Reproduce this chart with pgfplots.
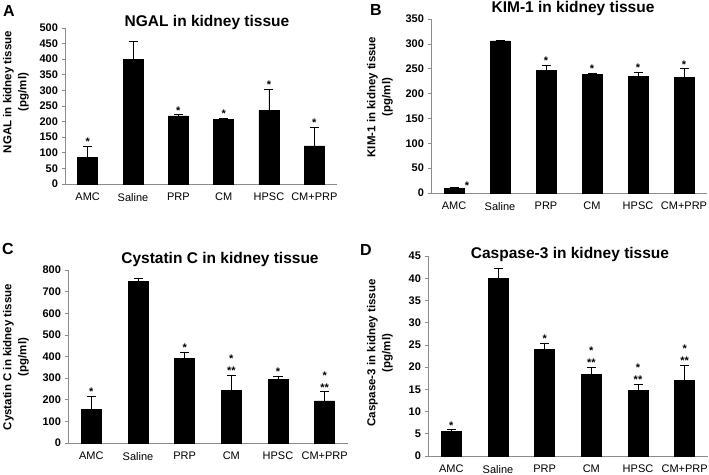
\documentclass[border=0pt]{standalone}
\usepackage{pgfplots}
\pgfplotsset{compat=1.18}
\usepackage{fontspec}
\setmainfont{Liberation Sans}
\definecolor{axgray}{gray}{0.55}
\pgfplotsset{
  panel/.style={
    scale only axis,
    axis lines*=left,
    axis line style={axgray, line width=0.7pt},
    enlargelimits=false,
    xmin=-0.5, xmax=5.5, ymin=0,
    xtick={0,1,2,3,4,5},
    xticklabels={AMC,Saline,PRP,CM,HPSC,CM+PRP},
    x tick label style={font=\fontsize{11}{12}\selectfont, yshift=-2pt},
    y tick label style={font=\bfseries\fontsize{11}{12}\selectfont},
    /pgf/number format/assume math mode=true,
    major x tick style={draw=none},
    extra x ticks={-0.5,0.5,1.5,2.5,3.5,4.5,5.5},
    extra x tick labels={},
    extra x tick style={major tick length=3.5pt, tick style={axgray, line width=0.6pt}},
    tick align=outside,
    major tick length=3.5pt,
    y tick style={axgray, line width=0.6pt},
    clip=false,
  },
  barplot/.style={ybar, bar width=20pt, fill=black, draw=black, mark=none,
    error bars/.cd, y dir=plus, y explicit,
    error bar style={black, line width=0.7pt},
    error mark=-,
    error mark options={black, rotate=90, mark size=4.5pt, line width=0.7pt}},
  stars/.style={only marks, mark=*, mark size=0pt, mark options={draw=none,fill=none},
    nodes near coords, point meta=explicit symbolic,
    nodes near coords style={anchor=south, align=center, inner sep=0.5pt,
      font=\bfseries\fontsize{11}{12}\selectfont}},
}
\begin{document}
\begin{tikzpicture}
\useasboundingbox (0pt,0pt) rectangle (709pt,474pt);

% Panel A
\begin{axis}[panel, at={(65pt,290pt)}, anchor=south west, width=272pt, height=156pt,
  ymax=500, ytick={0,50,...,500}]
\addplot[barplot] table[x=x,y=y,y error=e]{
x y e
0 85 35
1 400 58
2 218 4
3 208 4
4 235 68
5 122 60
};
\addplot[stars] coordinates {(0,120)[*] (2,222)[*] (3,212)[*] (4,303)[*] (5,182)[*]};
\end{axis}

% Panel B
\begin{axis}[panel, at={(431pt,281pt)}, anchor=south west, width=276pt, height=174pt,
  ymax=350, ytick={0,50,...,350}]
\addplot[barplot] table[x=x,y=y,y error=e]{
x y e
0 10 1
1 306 2
2 247 10
3 239 2
4 234 9
5 232 18
};
\addplot[stars] coordinates {(2,257)[*] (3,241)[*] (4,243)[*] (5,250)[*]};
\addplot[stars, nodes near coords style={anchor=south west}] coordinates {(0.22,6)[*]};
\end{axis}

% Panel C
\begin{axis}[panel, at={(68pt,31pt)}, anchor=south west, width=280pt, height=173pt,
  ymax=800, ytick={0,100,...,800}]
\addplot[barplot] table[x=x,y=y,y error=e]{
x y e
0 155 60
1 748 12
2 393 27
3 245 70
4 293 17
5 195 42
};
\addplot[stars] coordinates {(0,215)[*] (2,420)[*] (3,315)[{*\\**}] (4,310)[*] (5,237)[{*\\**}]};
\end{axis}

% Panel D
\begin{axis}[panel, at={(428pt,18pt)}, anchor=south west, width=280pt, height=200pt,
  ymax=45, ytick={0,5,...,45}]
\addplot[barplot] table[x=x,y=y,y error=e]{
x y e
0 5.5 0.4
1 40 2.2
2 24 1.3
3 18.4 1.6
4 14.8 1.3
5 17 3.5
};
\addplot[stars] coordinates {(0,5.9)[*] (2,25.3)[*] (3,20)[{*\\**}] (4,16.1)[{*\\**}] (5,20.5)[{*\\**}]};
\end{axis}

% Titles
\begin{scope}[every node/.style={font=\bfseries\fontsize{15.5}{17}\selectfont}]
\node at (207pt,452pt) {NGAL in kidney tissue};
\node at (573pt,466pt) {KIM-1 in kidney tissue};
\node at (220pt,215pt) {Cystatin C in kidney tissue};
\node at (570pt,220pt) {Caspase-3 in kidney tissue};
\end{scope}
% Panel letters
\begin{scope}[every node/.style={font=\bfseries\fontsize{16}{18}\selectfont}]
\node at (9pt,463pt) {A};
\node at (376pt,464pt) {B};
\node at (8pt,225pt) {C};
\node at (366pt,224pt) {D};
\end{scope}
% Y labels
\begin{scope}[every node/.style={rotate=90, align=center, font=\bfseries\fontsize{11.5}{15}\selectfont}]
\node at (16pt,382pt) {NGAL in kidney tissue\\(pg/ml)};
\node at (380pt,377pt) {KIM-1 in kidney tissue\\(pg/ml)};
\node at (16pt,117pt) {Cystatin C in kidney tissue\\(pg/ml)};
\node at (380pt,121pt) {Caspase-3 in kidney tissue\\(pg/ml)};
\end{scope}
\end{tikzpicture}
\end{document}
